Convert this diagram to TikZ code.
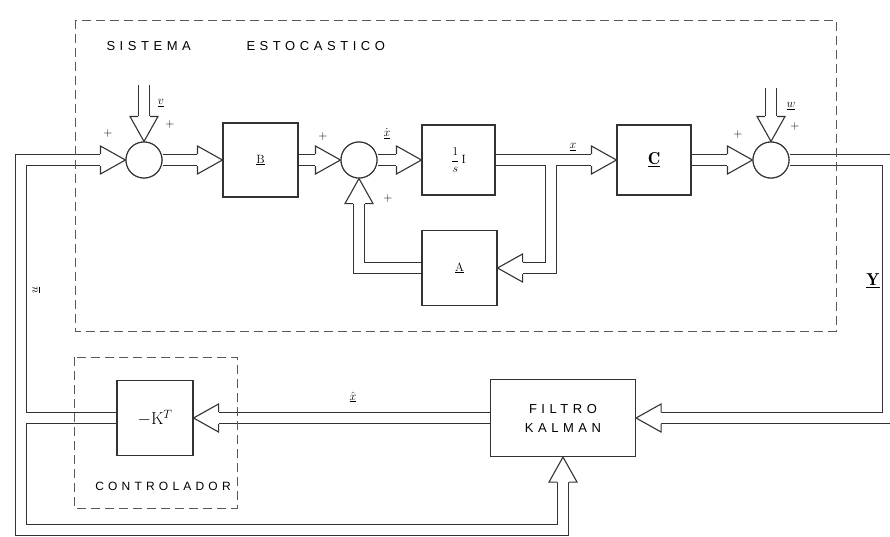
\documentclass[tikz,border=0pt]{standalone}
\usepackage{fontspec}
\newfontfamily\hand[LetterSpace=35]{Liberation Sans}
\usetikzlibrary{calc}
\begin{document}
\begin{tikzpicture}[x=1pt,y=-1pt,
  ln/.style={line width=1.1pt, draw=black!80},
  box/.style={ln, fill=white, inner sep=0pt},
  sumc/.style={ln, fill=white, circle, minimum size=36pt, inner sep=0pt},
  chout/.style={line width=12pt, draw=black!80, line join=miter},
  chin/.style={line width=9.8pt, draw=white, line join=miter},
  dbox/.style={draw=black!65, line width=0.9pt, dash pattern=on 9pt off 5pt},
  sgn/.style={font=\large},
  lbl/.style={font=\large},
  harr/.pic={\draw[ln, fill=white, line join=miter] (-25,6) -- (-25,14) -- (0,0) -- (-25,-14) -- (-25,-6);}
]
\useasboundingbox (0,0) rectangle (890,536);

% nodes (placed first, drawn later via fill)
\path
  node[sumc] (s1) at (144,160) {}
  node[box, minimum width=75pt, minimum height=74pt] (B) at (260.5,160) {}
  node[sumc] (s2) at (359,160) {}
  node[box, minimum width=73pt, minimum height=70pt] (I1) at (458.5,160) {}
  node[box, minimum width=74pt, minimum height=70pt] (C) at (654,160) {}
  node[sumc] (s3) at (771,160) {}
  node[box, minimum width=75pt, minimum height=75pt] (A) at (459.5,268) {}
  node[box, minimum width=76pt, minimum height=75pt] (K) at (155,418) {}
  node[box, minimum width=145pt, minimum height=77pt] (KF) at (563,418) {};

\coordinate (vin) at (144,85);
\coordinate (win) at (771,88);
\coordinate (br1) at (551,160);
\coordinate (yr) at (888,160);
\coordinate (ul) at (21,418);
\coordinate (ub) at (21,530);

% double-line channels: borders first, then interiors
\foreach \st in {chout,chin}{
  \draw[\st] (vin) -- ($(s1.north)+(0,-25)$);
  \draw[\st] (win) -- ($(s3.north)+(0,-25)$);
  \draw[\st] (s1.east) -- ($(B.west)+(-25,0)$);
  \draw[\st] (B.east) -- ($(s2.west)+(-25,0)$);
  \draw[\st] (s2.east) -- ($(I1.west)+(-25,0)$);
  \draw[\st] (I1.east) -- ($(C.west)+(-25,0)$);
  \draw[\st] (br1) -- (br1 |- A.east) -- ($(A.east)+(25,0)$);
  \draw[\st] (A.west) -- (s2 |- A.west) -- ($(s2.south)+(0,25)$);
  \draw[\st] (C.east) -- ($(s3.west)+(-25,0)$);
  \draw[\st] (s3.east) -- (yr) -- (yr |- KF.east) -- ($(KF.east)+(25,0)$);
  \draw[\st] (KF.west) -- ($(K.east)+(25,0)$);
  \draw[\st] (K.west) -- (ul) -- (ul |- s1.west) -- ($(s1.west)+(-25,0)$);
  \draw[\st] (ul) -- (ub) -- (ub -| KF.south) -- ($(KF.south)+(0,25)$);
}

% blocks and summing points
\node[sumc] at (s1) {};
\node[sumc] at (s2) {};
\node[sumc] at (s3) {};
\node[box, minimum width=75pt, minimum height=74pt] at (B) {\large$\underline{\mathrm{B}}$};
\node[box, minimum width=73pt, minimum height=70pt] at (I1) {\large$\displaystyle\frac{1}{s}\,\mathrm{I}$};
\node[box, minimum width=74pt, minimum height=70pt] at (C) {\LARGE$\underline{\mathbf{C}}$};
\node[box, minimum width=75pt, minimum height=75pt] at (A) {\large$\underline{\mathrm{A}}$};
\node[box, minimum width=76pt, minimum height=75pt] at (K) {\LARGE$-\mathrm{K}^{T}$};
\node[box, minimum width=145pt, minimum height=77pt, align=center] at (KF) {\hand\fontsize{13}{15}\selectfont FILTRO\\[7pt]\hand\fontsize{13}{15}\selectfont KALMAN};

% hollow arrowheads
\path (s1.north) pic[rotate=-90]{harr};
\path (s3.north) pic[rotate=-90]{harr};
\path (s1.west) pic{harr};
\path (B.west) pic{harr};
\path (s2.west) pic{harr};
\path (I1.west) pic{harr};
\path (C.west) pic{harr};
\path (s3.west) pic{harr};
\path (s2.south) pic[rotate=90]{harr};
\path (A.east) pic[rotate=180]{harr};
\path (KF.east) pic[rotate=180]{harr};
\path (KF.south) pic[rotate=90]{harr};
\path (K.east) pic[rotate=180]{harr};

% dashed frames
\draw[dbox] (75,20) rectangle (836,331);
\draw[dbox] (74,357) rectangle (237,508);

% texts
\node[anchor=west] (t1) at (103,46) {\hand\fontsize{13}{15}\selectfont SISTEMA};
\node[anchor=west] (t2) at (243,46) {\hand\fontsize{13}{15}\selectfont ESTOCASTICO};
\node (t3) at (163,486) {\hand\fontsize{12}{14}\selectfont CONTROLADOR};

\node[sgn] (p1) at (108,134) {+};
\node[sgn] (p2) at (170,125) {+};
\node[sgn] (p3) at (323,137) {+};
\node[sgn] (p4) at (388,198) {+};
\node[sgn] (p5) at (738,135) {+};
\node[sgn] (p6) at (795,127) {+};

\node[lbl] (lv) at (161,103) {$\underline{v}$};
\node[lbl] (lw) at (791,106) {$\underline{w}$};
\node[lbl] (lxd) at (387,134) {$\dot{\underline{x}}$};
\node[lbl] (lx) at (573,147) {$\underline{x}$};
\node[lbl] (lxh) at (353,397) {$\hat{\underline{x}}$};
\node[lbl, rotate=90] (lu) at (36,290) {$\underline{u}$};
\node (lY) at (873,281) {\LARGE$\underline{\mathbf{Y}}$};
\end{tikzpicture}
\end{document}
